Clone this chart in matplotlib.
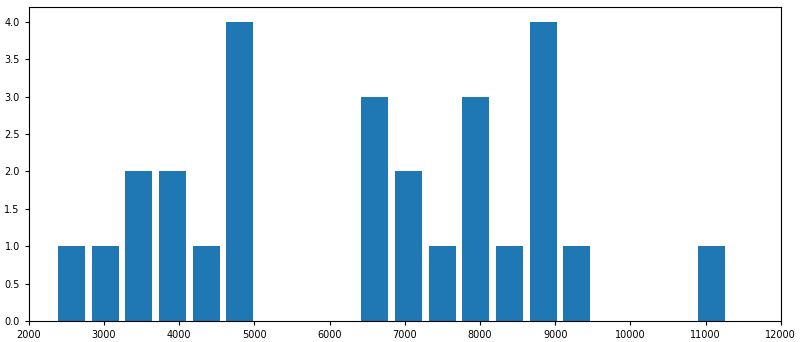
import numpy as np
import matplotlib
matplotlib.use("Agg")
from matplotlib import pyplot as plt

# histogram of values, 20 bins between data min and max
data_min = 2344
data_max = 11304
n_bins = 20
counts = [1, 1, 2, 2, 1, 4, 0, 0, 0, 3, 2, 1, 3, 1, 4, 1, 0, 0, 0, 1]

edges = np.linspace(data_min, data_max, n_bins + 1)

fig = plt.figure(figsize=(8, 3.42), dpi=100)
ax = fig.add_axes([0.036, 0.061, 0.94, 0.919])
ax.hist(edges[:-1], bins=edges, weights=counts, rwidth=0.8, color="#1f77b4")
ax.set_xlim(2000, 12000)
ax.set_xticks(range(2000, 12001, 1000))
ax.tick_params(labelsize=7, length=3)

fig.savefig("out.png")
